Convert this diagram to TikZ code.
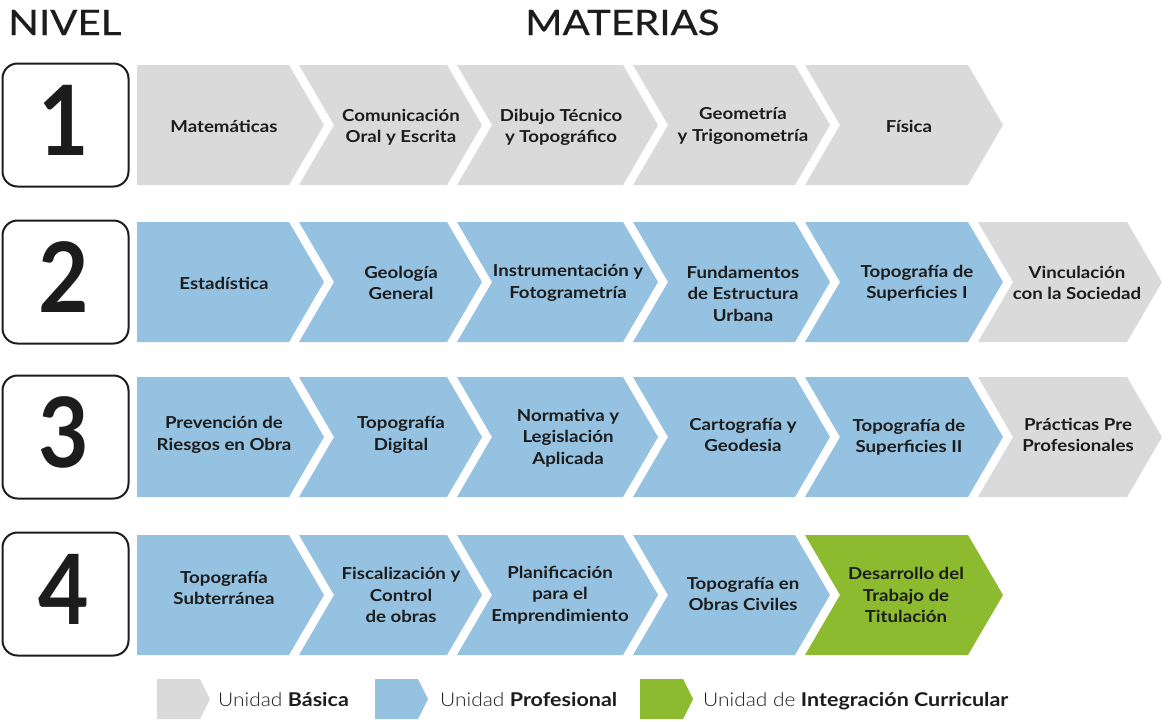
\documentclass[tikz,border=0pt]{standalone}
\usepackage{fontspec}
\setmainfont{Lato}[FakeStretch=1.13]
\newfontfamily\lightfont{Lato Light}[FakeStretch=1.1]
\newfontfamily\headfont{Lato}[FakeStretch=1.15,FakeBold=0.6]
\newfontfamily\digitfont{Lato Bold}[FakeStretch=0.9]
\definecolor{basica}{HTML}{DADADA}
\definecolor{profesional}{HTML}{95C2E1}
\definecolor{integracion}{HTML}{8CBB2F}
\definecolor{ink}{HTML}{1C1C1C}
% chevron with a flat left edge: left x, right x, top y, colour
\newcommand\chevFirst[4]{\fill[#4] (#1,#3) -- (#2,#3) -- ({#2+35},{#3+60}) -- (#2,{#3+120}) -- (#1,{#3+120}) -- cycle;}
% chevron with a notched left edge
\newcommand\chevNext[4]{\fill[#4] (#1,#3) -- (#2,#3) -- ({#2+35},{#3+60}) -- (#2,{#3+120}) -- (#1,{#3+120}) -- ({#1+35},{#3+60}) -- cycle;}
% small legend chevron: left x, colour
\newcommand\chevKey[2]{\fill[#2] (#1,679) -- ({#1+43},679) -- ({#1+53},699) -- ({#1+43},719) -- (#1,719) -- cycle;}
\begin{document}
\begin{tikzpicture}[x=1pt,y=-1pt,
  subject/.style={align=center,text=ink,inner sep=0pt,
    font=\fontsize{16.5}{21.5}\selectfont\bfseries},
  numbox/.style={draw=ink,line width=2pt,rounded corners=15pt,
    minimum width=126pt,minimum height=123pt,inner sep=0pt},
  digit/.style={text=ink,inner sep=0pt,font=\digitfont\fontsize{97}{97}\selectfont},
  heading/.style={text=ink,inner sep=0pt,anchor=base west,font=\headfont\fontsize{35}{35}\selectfont},
  keytext/.style={text=ink,inner sep=0pt,anchor=base west,font=\fontsize{19}{19}\selectfont}]
\useasboundingbox (0,0) rectangle (1168,721);

% headings
\node[heading] (nivel) at (8,35) {NIVEL};
\node[heading] (materias) at (525,35) {MATERIAS};

% level boxes
\foreach \n/\y in {1/125,2/282,3/437,4/594}{
  \node[numbox] (box\n) at (65.5,\y) {};
  \node[digit] (num\n) at (64,\y-5) {\n};
}

% row 1
\chevFirst{137}{289}{65}{basica}
\chevNext{299}{447}{65}{basica}
\chevNext{457}{623}{65}{basica}
\chevNext{633}{795}{65}{basica}
\chevNext{805}{968}{65}{basica}
% row 2
\chevFirst{137}{289}{222}{profesional}
\chevNext{299}{447}{222}{profesional}
\chevNext{457}{623}{222}{profesional}
\chevNext{633}{795}{222}{profesional}
\chevNext{805}{968}{222}{profesional}
\chevNext{978}{1127}{222}{basica}
% row 3
\chevFirst{137}{289}{377}{profesional}
\chevNext{299}{447}{377}{profesional}
\chevNext{457}{623}{377}{profesional}
\chevNext{633}{795}{377}{profesional}
\chevNext{805}{968}{377}{profesional}
\chevNext{978}{1127}{377}{basica}
% row 4
\chevFirst{137}{289}{535}{profesional}
\chevNext{299}{447}{535}{profesional}
\chevNext{457}{623}{535}{profesional}
\chevNext{633}{795}{535}{profesional}
\chevNext{805}{968}{535}{integracion}

% subjects, row 1
\node[subject] (s11) at (224,126) {Matemáticas};
\node[subject] (s12) at (401,127.5) {Comunicación\\Oral y Escrita};
\node[subject] (s13) at (561,127.5) {Dibujo Técnico\\y Topográfico};
\node[subject] (s14) at (743,126) {Geometría\\y Trigonometría};
\node[subject] (s15) at (909,126) {Física};
% row 2
\node[subject] (s21) at (224,283) {Estadística};
\node[subject] (s22) at (401,283) {Geología\\General};
\node[subject] (s23) at (568,283) {Instrumentación y\\Fotogrametría};
\node[subject] (s24) at (743,293.5) {Fundamentos\\de Estructura\\Urbana};
\node[subject] (s25) at (917,283) {Topografía de\\Superficies I};
\node[subject] (s26) at (1077,283) {Vinculación\\con la Sociedad};
% row 3
\node[subject] (s31) at (224,435) {Prevención de\\Riesgos en Obra};
\node[subject] (s32) at (401,435) {Topografía\\Digital};
\node[subject] (s33) at (568,438) {Normativa y\\Legislación\\Aplicada};
\node[subject] (s34) at (743,435) {Cartografía y\\Geodesia};
\node[subject] (s35) at (909,437) {Topografía de\\Superficies II};
\node[subject] (s36) at (1078,435) {Prácticas Pre\\Profesionales};
% row 4
\node[subject] (s41) at (224,588) {Topografía\\Subterránea};
\node[subject] (s42) at (401,595) {Fiscalización y\\Control\\de obras};
\node[subject] (s43) at (560,595) {Planificación\\para el\\Emprendimiento};
\node[subject] (s44) at (743,594) {Topografía en\\Obras Civiles};
\node[subject] (s45) at (906,595) {Desarrollo del\\Trabajo de\\Titulación};

% legend
\chevKey{157}{basica}
\chevKey{375}{profesional}
\chevKey{640}{integracion}
\node[keytext] (k1) at (218,706) {{\lightfont Unidad} \textbf{Básica}};
\node[keytext] (k2) at (440,706) {{\lightfont Unidad} \textbf{Profesional}};
\node[keytext] (k3) at (703,706) {{\lightfont Unidad de} \textbf{Integración Curricular}};
\end{tikzpicture}
\end{document}
